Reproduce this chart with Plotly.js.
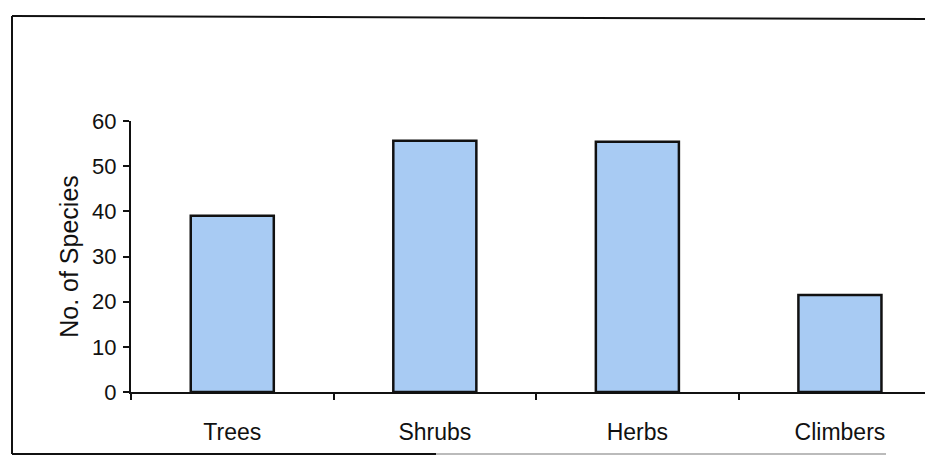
<!DOCTYPE html>
<html>
<head>
<meta charset="utf-8">
<script src="https://cdn.plot.ly/plotly-3.0.1.min.js"></script>
<style>html,body{margin:0;padding:0;background:#fff;}#chart{width:925px;height:456px;}</style>
</head>
<body>
<div id="chart"></div>
<script>
var categories = ["Trees", "Shrubs", "Herbs", "Climbers"];
var species = [39, 55.6, 55.4, 21.5];
var yTicks = [0, 10, 20, 30, 40, 50, 60];

var W = 925, H = 456;
var L = 131, R = 0, T = 121, B = 64;
var pw = W - L - R, ph = H - T - B;
function px(x) { return (x - L) / pw; }
function py(y) { return (H - B - y) / ph; }

var trace = {
  type: "bar",
  x: categories,
  y: species,
  width: 0.41,
  marker: { color: "#a8cbf3", line: { color: "#111", width: 2.5 } },
  hoverinfo: "x+y"
};

var layout = {
  width: W, height: H,
  margin: { l: L, r: R, t: T, b: B, pad: 0 },
  paper_bgcolor: "#fff", plot_bgcolor: "#fff",
  showlegend: false,
  font: { family: "Liberation Sans, Arial, sans-serif", color: "#111" },
  xaxis: {
    type: "category",
    range: [-0.5, 3.42],
    showline: true, linecolor: "#111", linewidth: 2,
    ticks: "outside", tickson: "boundaries", ticklen: 6, tickwidth: 2, tickcolor: "#111",
    showgrid: false, zeroline: false,
    tickfont: { size: 23, color: "#111" },
    ticklabelstandoff: 18,
    fixedrange: true
  },
  yaxis: {
    range: [0, 60],
    tickvals: yTicks,
    showline: true, linecolor: "#111", linewidth: 2,
    ticks: "outside", ticklen: 6, tickwidth: 2, tickcolor: "#111",
    showgrid: false, zeroline: false,
    tickfont: { size: 22, color: "#111" },
    ticklabelstandoff: 2,
    title: { text: "No. of Species", font: { size: 25, color: "#111" }, standoff: 6 },
    fixedrange: true
  },
  shapes: [
    { type: "line", xref: "paper", yref: "paper", x0: px(12), y0: py(16), x1: px(925), y1: py(19), line: { color: "#111", width: 2 } },
    { type: "line", xref: "paper", yref: "paper", x0: px(12), y0: py(16), x1: px(12), y1: py(454), line: { color: "#111", width: 2 } },
    { type: "line", xref: "paper", yref: "paper", x0: px(12), y0: py(454), x1: px(436), y1: py(454), line: { color: "#111", width: 2 } },
    { type: "line", xref: "paper", yref: "paper", x0: px(436), y0: py(454), x1: px(886), y1: py(454), line: { color: "#bbb", width: 2 } }
  ]
};

Plotly.newPlot("chart", [trace], layout, { displayModeBar: false, staticPlot: true });
</script>
</body>
</html>
